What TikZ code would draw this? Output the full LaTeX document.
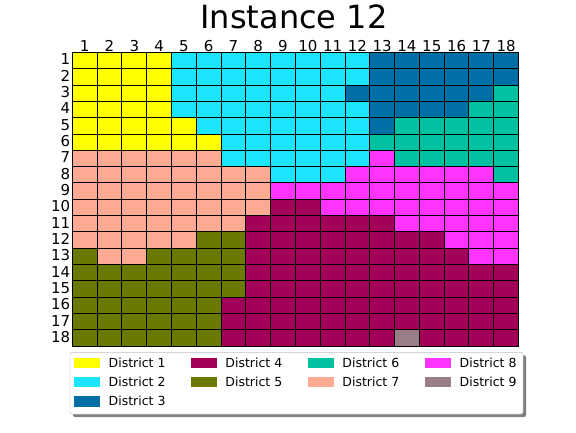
\documentclass[tikz,border=0pt]{standalone}
\usepackage{fontspec}
\setmainfont{DejaVu Sans}
\usetikzlibrary{shadows}
\definecolor{D1}{HTML}{FFFF00}
\definecolor{D2}{HTML}{1CE6FF}
\definecolor{D3}{HTML}{006FA6}
\definecolor{D4}{HTML}{A30059}
\definecolor{D5}{HTML}{6B7900}
\definecolor{D6}{HTML}{00C2A0}
\definecolor{D7}{HTML}{FFAA92}
\definecolor{D8}{HTML}{FF34FF}
\definecolor{D9}{HTML}{997D87}
\begin{document}
\begin{tikzpicture}[x=1pt,y=-1pt,
    cell/.style={draw=black,line width=0.9pt},
    tick/.style={font=\fontsize{15}{15}\selectfont,inner sep=0pt},
    keytext/.style={font=\fontsize{12.5}{12.5}\selectfont,inner sep=0pt,anchor=west}]
  \useasboundingbox (0,0) rectangle (576,432);
  \node[anchor=base,font=\fontsize{32}{32}\selectfont] (title) at (294,28.5) {Instance 12};
  % district map, one list per row
  \foreach \cells [count=\r] in {
      {1,1,1,1,2,2,2,2,2,2,2,2,3,3,3,3,3,3},
      {1,1,1,1,2,2,2,2,2,2,2,2,3,3,3,3,3,3},
      {1,1,1,1,2,2,2,2,2,2,2,3,3,3,3,3,3,6},
      {1,1,1,1,2,2,2,2,2,2,2,2,3,3,3,3,6,6},
      {1,1,1,1,1,2,2,2,2,2,2,2,3,6,6,6,6,6},
      {1,1,1,1,1,1,2,2,2,2,2,2,6,6,6,6,6,6},
      {7,7,7,7,7,7,2,2,2,2,2,2,8,6,6,6,6,6},
      {7,7,7,7,7,7,7,7,2,2,2,8,8,8,8,8,8,6},
      {7,7,7,7,7,7,7,7,8,8,8,8,8,8,8,8,8,8},
      {7,7,7,7,7,7,7,7,4,4,8,8,8,8,8,8,8,8},
      {7,7,7,7,7,7,7,4,4,4,4,4,4,8,8,8,8,8},
      {7,7,7,7,7,5,5,4,4,4,4,4,4,4,4,8,8,8},
      {5,7,7,5,5,5,5,4,4,4,4,4,4,4,4,4,8,8},
      {5,5,5,5,5,5,5,4,4,4,4,4,4,4,4,4,4,4},
      {5,5,5,5,5,5,5,4,4,4,4,4,4,4,4,4,4,4},
      {5,5,5,5,5,5,4,4,4,4,4,4,4,4,4,4,4,4},
      {5,5,5,5,5,5,4,4,4,4,4,4,4,4,4,4,4,4},
      {5,5,5,5,5,5,4,4,4,4,4,4,4,9,4,4,4,4}}{
    \foreach \d [count=\c] in \cells
      \filldraw[cell,fill=D\d] ({72.3+(\c-1)*24.79},{52.3+(\r-1)*16.33}) rectangle ++(24.79,16.33);
  }
  \foreach \c in {1,...,18}{
    \node[tick,anchor=base] (col\c) at ({72.3+(\c-0.5)*24.79},51.3) {\c};
    \node[tick,anchor=east] (row\c) at (70.3,{52.3+(\c-0.5)*16.33-1}) {\c};
  }
  % legend
  \node[draw=gray!50,fill=white,rounded corners=2pt,minimum width=453pt,minimum height=61.7pt,
    drop shadow={shadow xshift=3pt,shadow yshift=-3pt,fill=black!50,opacity=1}] (legend) at (296.5,383.2) {};
  \foreach \d/\x/\y in {1/74/362.8,2/74/382,3/74/401.3,4/190.7/362.8,5/190.7/382,
      6/307.7/362.8,7/307.7/382,8/425/362.8,9/425/382}{
    \node[fill=D\d,minimum width=26pt,minimum height=10.5pt,inner sep=0pt,anchor=west] (key\d) at (\x,\y) {};
    \node[keytext] (lab\d) at (\x+34.5,\y) {District \d};
  }
\end{tikzpicture}
\end{document}
